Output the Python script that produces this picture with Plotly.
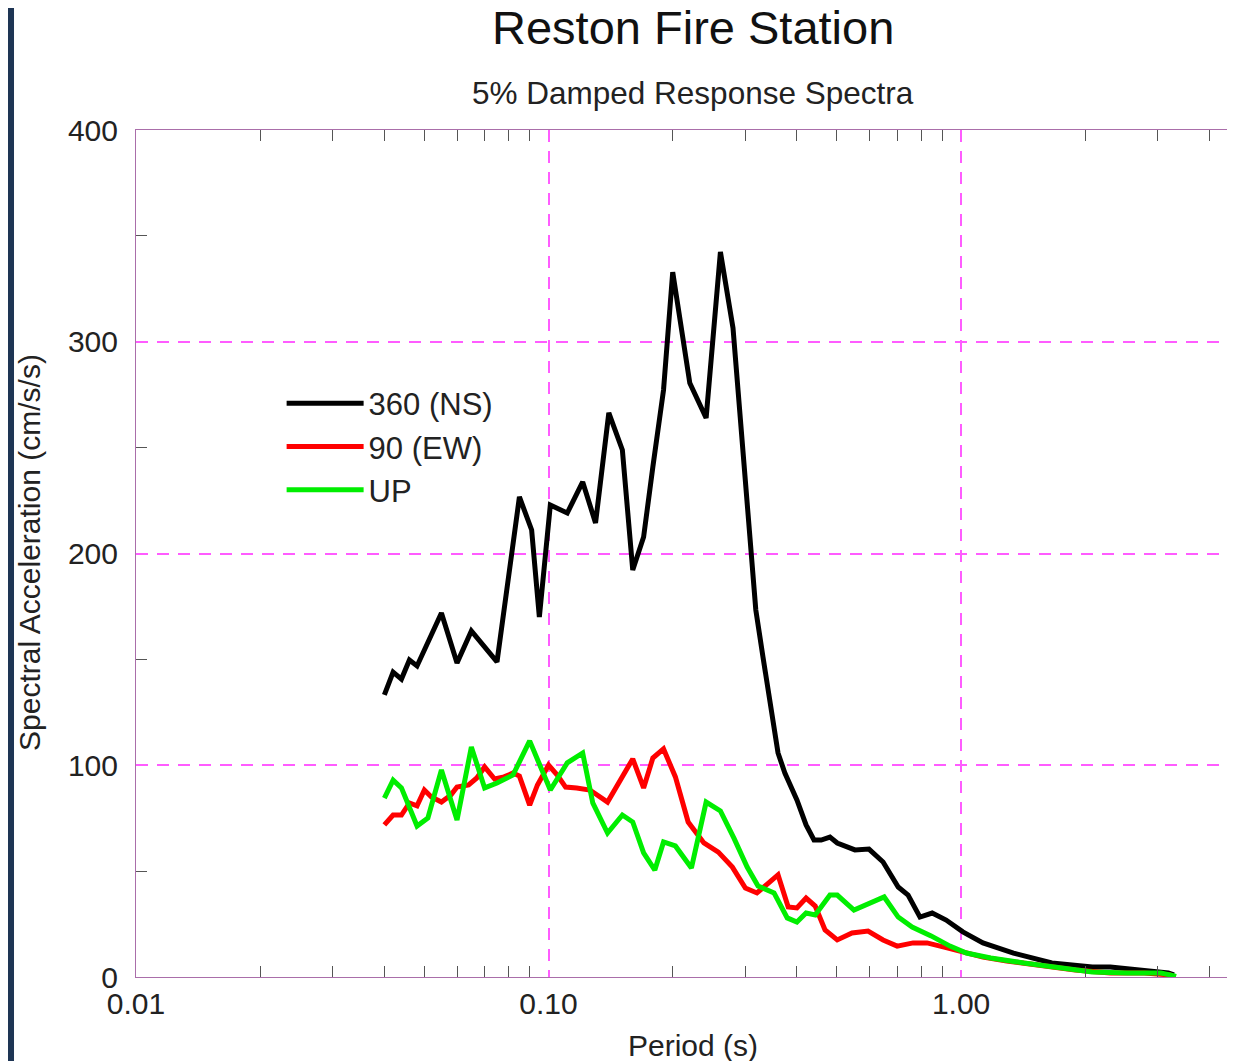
import plotly.graph_objects as go

# ---- data (period in s, spectral acceleration in cm/s/s) ----
ns_period = [0.040, 0.042, 0.044, 0.046, 0.048, 0.055, 0.060, 0.065, 0.075, 0.085,
             0.091, 0.095, 0.101, 0.111, 0.121, 0.130, 0.140, 0.151, 0.160, 0.170,
             0.179, 0.190, 0.200, 0.220, 0.241, 0.261, 0.280, 0.295, 0.310, 0.318,
             0.331, 0.344, 0.360, 0.374, 0.400, 0.421, 0.440, 0.458, 0.481, 0.501,
             0.553, 0.598, 0.647, 0.704, 0.744, 0.795, 0.851, 0.920, 1.01, 1.13,
             1.34, 1.66, 2.08, 2.30, 2.67, 3.18, 3.28]
ns_sa = [133.2, 144.0, 140.7, 149.7, 146.9, 171.9, 148.3, 163.4, 148.8, 226.7,
         211.1, 170.0, 222.9, 219.1, 233.8, 214.4, 266.4, 248.9, 192.2, 207.8,
         240.9, 277.2, 332.9, 280.5, 264.0, 342.4, 306.5, 253.6, 198.3, 173.3,
         151.1, 130.8, 105.8, 96.3, 83.6, 71.8, 64.7, 64.7, 66.1, 63.3,
         60.0, 60.4, 54.3, 42.5, 38.7, 28.3, 30.2, 26.9, 21.3, 16.1,
         11.3, 6.6, 4.7, 4.7, 3.3, 1.9, 1.0]

ew_period = [0.040, 0.042, 0.044, 0.046, 0.048, 0.050, 0.052, 0.055, 0.058, 0.060,
             0.064, 0.067, 0.070, 0.074, 0.078, 0.082, 0.085, 0.090, 0.094, 0.100,
             0.105, 0.110, 0.117, 0.126, 0.139, 0.151, 0.160, 0.170, 0.179, 0.190,
             0.203, 0.218, 0.238, 0.258, 0.279, 0.300, 0.320, 0.339, 0.360, 0.381,
             0.400, 0.421, 0.443, 0.468, 0.501, 0.544, 0.595, 0.647, 0.700, 0.765,
             0.827, 0.905, 1.00, 1.13, 1.29, 1.56, 1.89, 2.30, 2.78, 3.23]
ew_sa = [71.8, 76.5, 76.5, 82.2, 80.8, 88.3, 85.0, 82.6, 86.0, 89.7,
         90.7, 94.0, 99.2, 93.5, 94.5, 96.3, 94.9, 81.2, 90.7, 100.1,
         95.4, 89.7, 89.3, 88.3, 82.6, 94.5, 103.0, 89.3, 103.4, 107.7,
         94.5, 73.2, 63.3, 59.0, 51.9, 42.0, 39.7, 43.9, 48.2, 33.1,
         32.6, 37.3, 33.5, 22.2, 17.5, 20.8, 21.7, 17.5, 14.6, 16.1,
         16.1, 14.2, 11.8, 9.4, 7.6, 5.2, 3.3, 1.9, 1.9, 0.9]

up_period = [0.040, 0.042, 0.044, 0.046, 0.048, 0.051, 0.055, 0.060, 0.065, 0.070,
             0.075, 0.082, 0.090, 0.101, 0.111, 0.121, 0.128, 0.139, 0.151, 0.160,
             0.170, 0.181, 0.190, 0.203, 0.222, 0.241, 0.261, 0.282, 0.303, 0.322,
             0.352, 0.379, 0.400, 0.421, 0.443, 0.481, 0.501, 0.550, 0.598, 0.651,
             0.704, 0.761, 0.846, 0.940, 1.03, 1.18, 1.42, 1.72, 2.08, 2.53,
             3.05, 3.23, 3.32]
up_sa = [84.5, 93.0, 89.3, 79.8, 71.3, 75.1, 97.8, 74.1, 108.6, 89.3,
         91.6, 95.4, 111.5, 88.3, 101.1, 105.8, 82.2, 68.0, 76.5, 73.2,
         58.6, 50.5, 63.8, 61.9, 51.5, 82.6, 78.4, 65.2, 51.9, 43.0,
         39.7, 27.9, 26.0, 30.2, 29.3, 38.7, 38.7, 31.6, 34.9, 37.8,
         28.3, 23.6, 19.4, 14.6, 11.3, 9.0, 6.6, 4.3, 2.4, 1.9,
         1.9, 0.9, 0.3]

x_major = [0.01, 0.1, 1.0]
x_major_text = ["0.01", "0.10", "1.00"]
x_minor = [0.02, 0.03, 0.04, 0.05, 0.06, 0.07, 0.08, 0.09,
           0.2, 0.3, 0.4, 0.5, 0.6, 0.7, 0.8, 0.9, 2, 3, 4]
y_major = [0, 100, 200, 300, 400]
y_minor = [50, 150, 250, 350]

FONT = "Liberation Sans, Arial, Helvetica, sans-serif"
GRID = "#ff5cff"
AXLINE = "rgb(170,110,170)"

fig = go.Figure()
fig.add_trace(go.Scatter(x=ns_period, y=ns_sa, mode="lines", name="360 (NS)",
                         line=dict(color="black", width=5)))
fig.add_trace(go.Scatter(x=ew_period, y=ew_sa, mode="lines", name="90 (EW)",
                         line=dict(color="#ff0000", width=5)))
fig.add_trace(go.Scatter(x=up_period, y=up_sa, mode="lines", name="UP",
                         line=dict(color="#00ee00", width=5)))

fig.update_layout(
    width=1227, height=1053,
    margin=dict(l=128, r=0, t=122, b=84),
    paper_bgcolor="white", plot_bgcolor="white",
    font=dict(family=FONT, color="#222", size=30),
    showlegend=True,
    legend=dict(x=0.1325, y=0.709, xanchor="left", yanchor="top",
                bgcolor="rgba(0,0,0,0)", font=dict(size=31, family=FONT, color="#222"),
                itemwidth=77, tracegroupgap=0),
    xaxis=dict(type="log", range=[-2, 0.664],
               tickmode="array", tickvals=x_major, ticktext=x_major_text,
               ticks="", showgrid=True, gridcolor=GRID, griddash="12px,9px", gridwidth=1.5,
               showline=True, linecolor=AXLINE, linewidth=1, mirror="ticks",
               zeroline=False,
               tickfont=dict(size=30, family=FONT, color="#222"),
               minor=dict(tickmode="array", tickvals=x_minor, ticks="inside",
                          ticklen=11, tickcolor="#555", tickwidth=1, showgrid=False)),
    yaxis=dict(range=[0, 400], tickmode="array", tickvals=y_major,
               ticks="", showgrid=True, gridcolor=GRID, griddash="12px,9px", gridwidth=1.5,
               showline=True, linecolor=AXLINE, linewidth=1, mirror=False,
               zeroline=False, ticklabelstandoff=11,
               tickfont=dict(size=30, family=FONT, color="#222"),
               minor=dict(tickmode="array", tickvals=y_minor, ticks="inside",
                          ticklen=11, tickcolor="#555", tickwidth=1, showgrid=False)),
    annotations=[
        dict(text="Reston Fire Station", x=0.5068, y=1.1205, xref="paper", yref="paper",
             showarrow=False, xanchor="center", yanchor="middle",
             font=dict(size=47, family=FONT, color="#111")),
        dict(text="5% Damped Response Spectra", x=0.5068, y=1.0437, xref="paper", yref="paper",
             showarrow=False, xanchor="center", yanchor="middle",
             font=dict(size=31.5, family=FONT, color="#222")),
        dict(text="Period (s)", x=0.5068, y=-0.0803, xref="paper", yref="paper",
             showarrow=False, xanchor="center", yanchor="middle",
             font=dict(size=30, family=FONT, color="#222")),
        dict(text="Spectral Acceleration (cm/s/s)", x=-0.0965, y=0.5018, xref="paper", yref="paper",
             showarrow=False, xanchor="center", yanchor="middle", textangle=-90,
             font=dict(size=30, family=FONT, color="#222")),
    ],
    shapes=[
        dict(type="rect", xref="paper", yref="paper", x0=-0.2, x1=-0.1110, y0=-0.2, y1=1.2,
             fillcolor="#1e3554", line=dict(width=0), layer="below"),
    ],
)

fig.write_html("out.html")
